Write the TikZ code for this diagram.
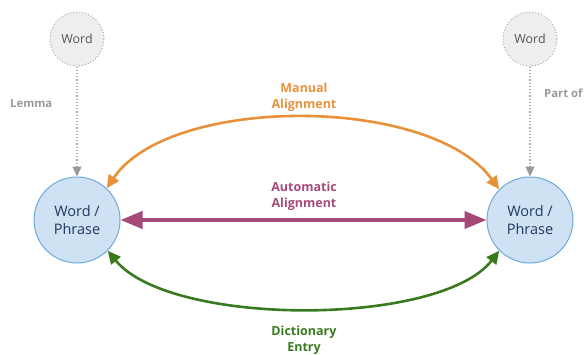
\documentclass[tikz,border=0pt]{standalone}
\usepackage{fontspec}
\setmainfont{Open Sans}
\usetikzlibrary{arrows.meta}
\definecolor{orangeC}{HTML}{E8913A}
\definecolor{purpleC}{HTML}{A54A78}
\definecolor{greenC}{HTML}{3A7A1E}
\definecolor{blueFill}{HTML}{CFE2F3}
\definecolor{blueLine}{HTML}{6FA8DC}
\definecolor{navyText}{HTML}{1F3A5F}
\definecolor{grayFill}{HTML}{EEEEEE}
\definecolor{grayLine}{HTML}{AAAAAA}
\definecolor{grayText}{HTML}{999999}
\definecolor{grayText2}{HTML}{555555}
\definecolor{grayTip}{HTML}{999999}
\tikzset{
  bigword/.style={circle, draw=blueLine, fill=blueFill, line width=1pt, minimum size=86pt, inner sep=0pt, align=center, text=navyText, font=\fontsize{14.5}{18}\selectfont},
  smallword/.style={circle, draw=grayLine, fill=grayFill, dotted, line width=1pt, minimum size=54pt, inner sep=0pt, text=grayText2, font=\fontsize{12.5}{14}\selectfont},
  rel/.style={draw=grayLine, dotted, line width=1.2pt, -{Triangle[length=10pt,width=9pt,color=grayTip,fill=grayTip]}},
  rellabel/.style={text=grayText, font=\bfseries\fontsize{11.3}{13}\selectfont},
  edgelabel/.style={align=center, font=\bfseries\fontsize{12.5}{16}\selectfont}
}
\begin{document}
\begin{tikzpicture}[x=1pt,y=-1pt]
\useasboundingbox (0,0) rectangle (587,354);
\node[bigword] (L) at (77,220) {Word /\\Phrase};
\node[bigword] (R) at (530,220) {Word /\\Phrase};
\node[smallword] (WL) at (77,39) {Word};
\node[smallword] (WR) at (530,39) {Word};
\draw[rel] (WL) -- (L);
\draw[rel] (WR) -- (R);
\node[rellabel, anchor=west, inner sep=0pt] (lemma) at (10,104) {Lemma};
\node[rellabel, anchor=west, inner sep=0pt] (partof) at (544,93) {Part of};
\draw[orangeC, line width=2.6pt, {Triangle[length=13pt,width=12pt]}-{Triangle[length=13pt,width=12pt]}] (L.47) .. controls (170,95) and (430,95) .. (R.135);
\draw[purpleC, line width=4pt, {Triangle[length=22pt,width=17pt]}-{Triangle[length=22pt,width=17pt]}] (L) -- (R);
\draw[greenC, line width=2.6pt, {Triangle[length=13pt,width=12pt]}-{Triangle[length=13pt,width=12pt]}] (L.-45) .. controls (170,327) and (440,327) .. (R.-135);
\node[edgelabel, text=orangeC] (man) at (304,97) {Manual\\Alignment};
\node[edgelabel, text=purpleC] (auto) at (304,196) {Automatic\\Alignment};
\node[edgelabel, text=greenC] (dict) at (304,340) {Dictionary\\Entry};
\end{tikzpicture}
\end{document}
